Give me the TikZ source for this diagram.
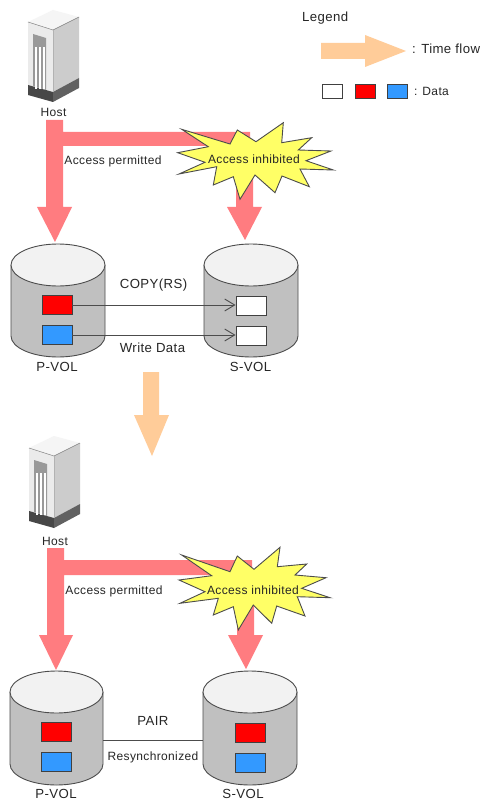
\documentclass[tikz,border=0pt]{standalone}
\usepackage{fontspec}
\setmainfont[LetterSpace=3]{Liberation Sans}
\usetikzlibrary{arrows.meta}
\definecolor{pinkarrow}{HTML}{FF7C80}
\definecolor{orangearrow}{HTML}{FFCC99}
\definecolor{cylgrey}{HTML}{C0C0C0}
\definecolor{cyltop}{HTML}{F2F2F2}
\definecolor{datablue}{HTML}{3399FF}
\definecolor{burst}{HTML}{FFFF66}
\tikzset{
  lbl/.style={font=\fontsize{12}{14}\selectfont, text=black!85, inner sep=0pt},
  lblwide/.style={font=\fontsize{13.2}{15}\selectfont, text=black!85, inner sep=0pt},
  databox/.style={draw=black!75, line width=0.9pt, minimum width=30pt, minimum height=19pt, inner sep=0pt},
  legbox/.style={draw=black!75, line width=0.9pt, minimum width=20pt, minimum height=14pt, inner sep=0pt},
  link/.style={draw=black!70, line width=1pt},
  openhead/.style={-{Straight Barb[length=10pt,width=12pt,line width=0.9pt]}},
  burststyle/.style={draw=black!70, fill=burst, line width=0.9pt, line join=miter},
}
\newcommand{\servericon}[2]{%
  \begin{scope}[shift={(#1,#2)}]
    \fill[black!4] (28,22) -- (53,10) -- (79,17) -- (53,30) -- cycle;
    \fill[black!8] (28,22) -- (53,30) -- (53,92) -- (28,85) -- cycle;
    \fill[black!20] (53,30) -- (79,17) -- (79,78) -- (53,92) -- cycle;
    \fill[black!72] (28,85) -- (53,92) -- (53,102) -- (28,95) -- cycle;
    \fill[black!62] (53,92) -- (79,78) -- (79,88) -- (53,102) -- cycle;
    \fill[black!40] (33,34) -- (46,38) -- (46,90) -- (33,86) -- cycle;
    \foreach \xx in {34.5,38.5,42.5}
      \fill[white] (\xx,47) rectangle (\xx+2.2,89);
    \draw[black!50, line width=0.5pt] (28,22) -- (53,30) -- (79,17);
    \draw[black!30, line width=0.5pt] (53,30) -- (53,92);
  \end{scope}}
\newcommand{\cyl}[4]{% left x, centre y of top, y of lower side end, width
  \fill[cylgrey] (#1,#2) -- (#1,#3) arc[start angle=180,end angle=0,x radius=#4/2,y radius=21] -- (#1+#4,#2) -- cycle;
  \draw[black!70, line width=0.9pt] (#1,#2) -- (#1,#3) arc[start angle=180,end angle=0,x radius=#4/2,y radius=21] -- (#1+#4,#2);
  \draw[black!70, fill=cyltop, line width=0.9pt] (#1+#4/2,#2) ellipse[x radius=#4/2,y radius=21];}
\begin{document}
\begin{tikzpicture}[x=1pt,y=-1pt]
\useasboundingbox (0,0) rectangle (482,802);
\fill[white] (0,0) rectangle (482,802);

% ===== legend
\node[lblwide, anchor=west] (legendtitle) at (302,18) {Legend};
\fill[orangearrow] (321,43) -- (365,43) -- (365,35) -- (406,51) -- (365,67) -- (365,59) -- (321,59) -- cycle;
\node[lblwide, anchor=west] (legendflow) at (412,49) {: Time flow};
\node[legbox, fill=white] (legw) at (332,91) {};
\node[legbox, fill=red] (legr) at (365,91) {};
\node[legbox, fill=datablue] (legb) at (397.5,91) {};
\node[lbl, anchor=west] (legenddata) at (414,91) {: Data};

% ===== upper part
\servericon{0}{0}
\node[lbl] (host1) at (53.5,112) {Host};
\fill[pinkarrow] (46,120) -- (63,120) -- (63,132) -- (250,132) -- (250,146) -- (253,146) -- (253,207) -- (262,207) -- (245,240) -- (227,207) -- (236,207) -- (236,146) -- (63,146) -- (63,207) -- (72,207) -- (55,242) -- (37,207) -- (46,207) -- cycle;
\draw[burststyle] (181.7,129.3) -- (230,144) -- (237.3,130) -- (256,141.7) -- (283.3,122.7) -- (281.7,142.7) -- (311.7,137.7) -- (298.3,150) -- (331,151) -- (306,160.7) -- (333.3,170) -- (300,169) -- (309.3,186.7) -- (282,176) -- (275,192.7) -- (255,175) -- (240,199.3) -- (233.3,176.7) -- (213.3,185) -- (216.7,166.7) -- (179,174) -- (205,162.3) -- (177.7,152.7) -- (208.3,146.7) -- cycle;
\node[lbl] (perm1) at (113,161.5) {Access permitted};
\node[lbl] (inh1) at (254,159.5) {Access inhibited};
\cyl{11}{265}{336}{94}
\cyl{204}{265}{336}{94}
\node[databox, fill=red] (r1) at (57,304.5) {};
\node[databox, fill=datablue] (b1) at (57,334.5) {};
\node[databox, fill=white] (w1) at (251,305.5) {};
\node[databox, fill=white] (w2) at (251,335.5) {};
\draw[link, openhead] (r1.east |- 0,305) -- (w1.west |- 0,305);
\draw[link, openhead] (b1.east |- 0,335) -- (w2.west |- 0,335);
\node[lblwide] (copy) at (153.5,285) {COPY(RS)};
\node[lblwide] (write) at (152.5,348) {Write Data};
\node[lblwide] (pv1) at (57,366.5) {P-VOL};
\node[lblwide] (sv1) at (250.5,367) {S-VOL};

% ===== time arrow
\fill[orangearrow] (143,372) -- (159,372) -- (159,415) -- (169,415) -- (152,456) -- (134,415) -- (143,415) -- cycle;

% ===== lower part
\servericon{1}{426}
\node[lbl] (host2) at (55,541.5) {Host};
\fill[pinkarrow] (47,548) -- (64,548) -- (64,560) -- (252,560) -- (252,575) -- (254,575) -- (254,635) -- (263,635) -- (246,669) -- (228,635) -- (237,635) -- (237,575) -- (64,575) -- (64,635) -- (73,635) -- (56,670) -- (39,635) -- (47,635) -- cycle;
\draw[burststyle] (181.7,555) -- (230,571.7) -- (237.3,556) -- (254,569.3) -- (280,547.3) -- (277.3,566.7) -- (306.7,564) -- (295,575) -- (326,577.7) -- (301.7,588.3) -- (330,597.7) -- (297.3,596.7) -- (305,616) -- (276.7,606) -- (271.7,623.3) -- (253.3,605) -- (238.3,630) -- (233.3,606.7) -- (213.3,615) -- (218.3,598.3) -- (180,603.3) -- (205,591.7) -- (179,580) -- (211.7,575.7) -- cycle;
\node[lbl] (perm2) at (114,591) {Access permitted};
\node[lbl] (inh2) at (253,590) {Access inhibited};
\cyl{10}{692}{764}{93}
\cyl{203}{692}{764}{94}
\node[databox, fill=red] (r2) at (56,731.5) {};
\node[databox, fill=datablue] (b2) at (56,761.5) {};
\node[databox, fill=red] (r3) at (250,732.5) {};
\node[databox, fill=datablue] (b3) at (250,762.5) {};
\coordinate (pl) at (103,740);
\coordinate (pr) at (203,740);
\draw[link] (pl) -- (pr);
\node[lblwide] (pair) at (153,720.5) {PAIR};
\node[lbl] (resync) at (153,757) {Resynchronized};
\node[lblwide] (pv2) at (56,794) {P-VOL};
\node[lblwide] (sv2) at (243,794) {S-VOL};
\end{tikzpicture}
\end{document}
